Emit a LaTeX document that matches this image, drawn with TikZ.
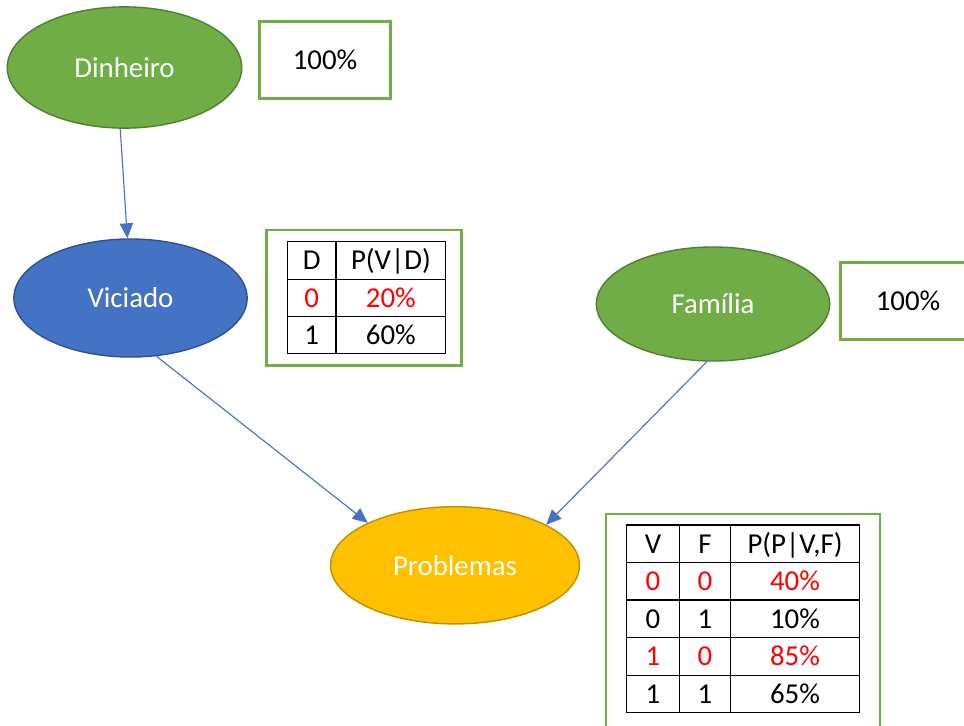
\documentclass[tikz,border=0pt]{standalone}
\usepackage{fontspec}
\setmainfont{Carlito}
\usetikzlibrary{shapes.geometric,arrows.meta}

\definecolor{okgreen}{HTML}{70AD47}
\definecolor{okgreenline}{HTML}{507E32}
\definecolor{okblue}{HTML}{4472C4}
\definecolor{okblueline}{HTML}{2F528F}
\definecolor{okyellow}{HTML}{FFC000}
\definecolor{okyellowline}{HTML}{BF9000}
\definecolor{okred}{HTML}{FF0000}

\begin{document}
\begin{tikzpicture}[x=0.025cm,y=-0.025cm,
    font=\fontsize{20.5}{24}\selectfont,
    var/.style={ellipse,draw,line width=1pt,inner sep=0pt,text=white},
    probbox/.style={draw=okgreen,line width=1.8pt},
    grade/.style={draw=black,line width=0.8pt},
    cell/.style={inner sep=0pt,text height=13.2pt,text depth=0pt},
    vermelho/.style={cell,text=okred},
    seta/.style={-{Triangle[length=3.75mm,width=3.3mm]},draw=okblue,line width=0.8pt}]

        \useasboundingbox (0,0) rectangle (964,725);

        %variables
        \node[var,fill=okgreen,draw=okgreenline,minimum width=5.86cm,minimum height=3.03cm] (dinheiro) at (124.5,67.5) {Dinheiro};
        \node[var,fill=okblue,draw=okblueline,minimum width=5.83cm,minimum height=2.95cm] (viciado) at (130.5,298) {Viciado};
        \node[var,fill=okgreen,draw=okgreenline,minimum width=5.83cm,minimum height=2.85cm] (familia) at (713,304) {Família};
        \node[var,fill=okyellow,draw=okyellowline,minimum width=6.22cm,minimum height=2.93cm] (problemas) at (455,565.3) {Problemas};

        %arrows
        \draw[seta] (dinheiro.-94) -- (viciado.93);
        \draw[seta] (viciado.-66) -- (problemas.154);
        \draw[seta] (familia.-96) -- (problemas.24);

        %Dinheiro
        \draw[probbox] (259.3,21.7) rectangle (390.7,98.3);
        \node[cell] (pdinheiro) at (325,60) {100\%};

        %Familia
        \draw[probbox] (840.7,262.7) rectangle (976,339.3);
        \node[cell] (pfamilia) at (908,301) {100\%};

        %Viciado table
        \draw[probbox] (266.7,230) rectangle (461.7,365.7);
        \draw[grade] (287.3,241.7) rectangle (445.7,353.3);
        \draw[grade] (336,241.7) -- (336,353.3);
        \draw[grade] (287.3,279.3) -- (445.7,279.3);
        \draw[grade] (287.3,316.7) -- (445.7,316.7);
        \node[cell] (vcabD) at (311.7,260.5) {D};
        \node[cell] (vcabP) at (390.9,260.5) {P(V|D)};
        \node[vermelho] (vD0) at (311.7,298) {0};
        \node[vermelho] (vP0) at (390.9,298) {20\%};
        \node[cell] (vD1) at (311.7,335) {1};
        \node[cell] (vP1) at (390.9,335) {60\%};

        %Problemas table
        \draw[probbox] (606,514) rectangle (880,740);
        \draw[grade] (626.7,525) rectangle (859.3,712.3);
        \draw[grade] (679.3,525) -- (679.3,712.3);
        \draw[grade] (730.7,525) -- (730.7,712.3);
        \draw[grade] (626.7,562.7) -- (859.3,562.7);
        \draw[grade] (626.7,600) -- (859.3,600);
        \draw[grade] (626.7,637.7) -- (859.3,637.7);
        \draw[grade] (626.7,675.7) -- (859.3,675.7);
        \node[cell] (pcabV) at (653,543.8) {V};
        \node[cell] (pcabF) at (705,543.8) {F};
        \node[cell] (pcabP) at (795,543.8) {P(P|V,F)};
        \node[vermelho] (pV00) at (653,581.3) {0};
        \node[vermelho] (pF00) at (705,581.3) {0};
        \node[vermelho] (pP00) at (795,581.3) {40\%};
        \node[cell] (pV01) at (653,618.8) {0};
        \node[cell] (pF01) at (705,618.8) {1};
        \node[cell] (pP01) at (795,618.8) {10\%};
        \node[vermelho] (pV10) at (653,656.7) {1};
        \node[vermelho] (pF10) at (705,656.7) {0};
        \node[vermelho] (pP10) at (795,656.7) {85\%};
        \node[cell] (pV11) at (653,694) {1};
        \node[cell] (pF11) at (705,694) {1};
        \node[cell] (pP11) at (795,694) {65\%};

    \end{tikzpicture}
\end{document}
